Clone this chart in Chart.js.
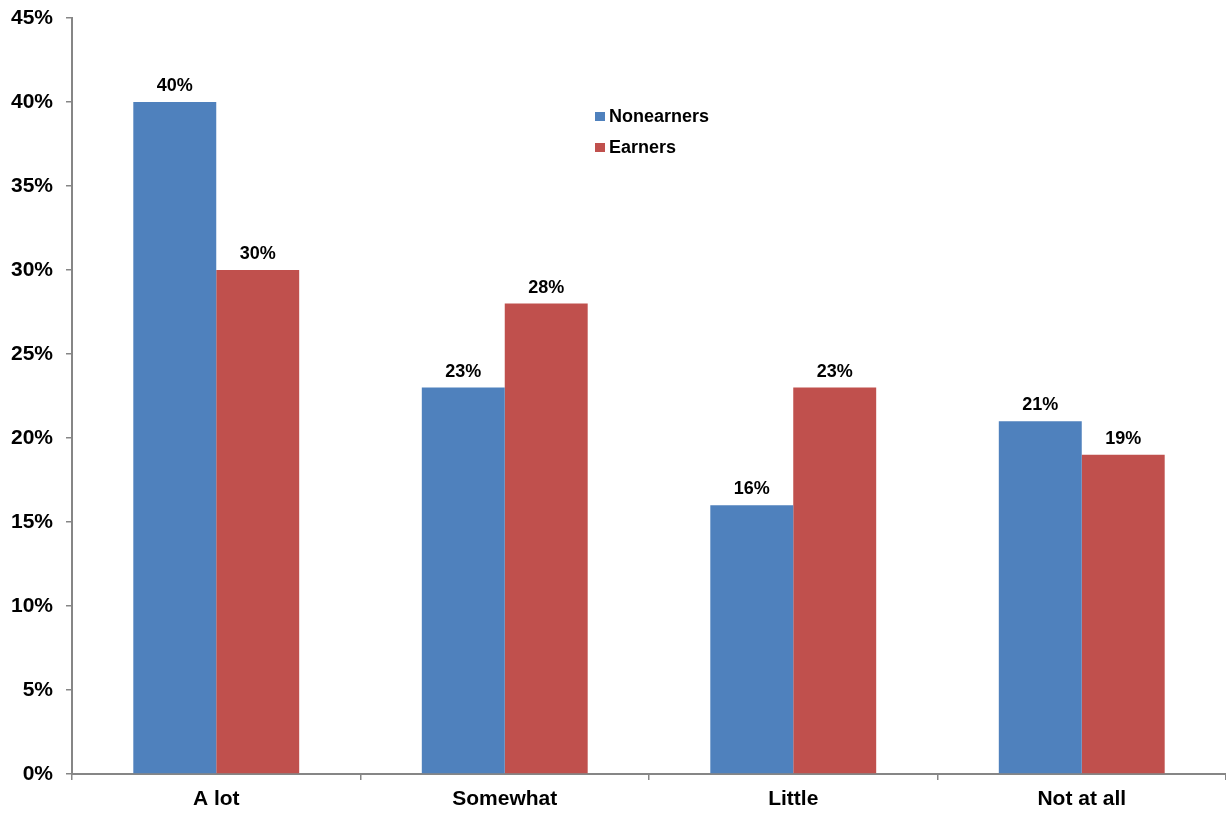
<!DOCTYPE html>
<html>
<head>
<meta charset="utf-8">
<script src="https://cdn.jsdelivr.net/npm/chart.js@4/dist/chart.umd.min.js"></script>
<style>
  html, body { margin: 0; padding: 0; background: #fff; }
  #wrap { width: 1226px; height: 817px; }
</style>
</head>
<body>
<div id="wrap"><canvas id="c" width="1226" height="817"></canvas></div>
<script>
const categories = ['A lot', 'Somewhat', 'Little', 'Not at all'];
const nonearners = [40, 23, 16, 21];
const earners = [30, 28, 23, 19];
const seriesNames = ['Nonearners', 'Earners'];
const yTicks = [0, 5, 10, 15, 20, 25, 30, 35, 40, 45];

const FONT = '"Liberation Sans", Arial, sans-serif';
const AXIS = '#868686';

// Value labels above each bar
const barLabels = {
  id: 'barLabels',
  afterDatasetsDraw(chart) {
    const ctx = chart.ctx;
    ctx.save();
    ctx.font = 'bold 18px ' + FONT;
    ctx.fillStyle = '#000';
    ctx.textAlign = 'center';
    ctx.textBaseline = 'alphabetic';
    chart.data.datasets.forEach((ds, i) => {
      chart.getDatasetMeta(i).data.forEach((bar, j) => {
        ctx.fillText(ds.data[j] + '%', bar.x, bar.y - 11);
      });
    });
    ctx.restore();
  }
};

// Legend placed inside the plot area
const innerLegend = {
  id: 'innerLegend',
  afterDraw(chart) {
    const ctx = chart.ctx;
    ctx.save();
    ctx.font = 'bold 18px ' + FONT;
    ctx.textBaseline = 'alphabetic';
    ctx.textAlign = 'left';
    chart.data.datasets.forEach((ds, i) => {
      const y = 122 + i * 31;
      ctx.fillStyle = ds.backgroundColor;
      ctx.fillRect(595, y - 10, 10, 9);
      ctx.fillStyle = '#000';
      ctx.fillText(ds.label, 609, y);
    });
    ctx.restore();
  }
};

new Chart(document.getElementById('c'), {
  type: 'bar',
  data: {
    labels: categories,
    datasets: [
      { label: seriesNames[0], data: nonearners, backgroundColor: '#4F81BD' },
      { label: seriesNames[1], data: earners, backgroundColor: '#C0504D' }
    ]
  },
  options: {
    responsive: false,
    animation: false,
    devicePixelRatio: 1,
    layout: { padding: { top: 18, right: 0, bottom: 0, left: 0 } },
    datasets: {
      bar: { categoryPercentage: 0.575, barPercentage: 1.0 }
    },
    plugins: {
      legend: { display: false },
      tooltip: { enabled: false }
    },
    scales: {
      x: {
        grid: {
          offset: true,
          drawOnChartArea: false,
          drawTicks: true,
          tickLength: 6,
          color: AXIS,
          lineWidth: 1.5
        },
        border: { color: AXIS, width: 2 },
        ticks: {
          color: '#000',
          font: { family: FONT, size: 21, weight: 'bold' },
          padding: 7,
          maxRotation: 0
        },
        afterFit(scale) {
          scale.height = 43;
          scale.paddingLeft = 0;
          scale.paddingRight = 0;
        }
      },
      y: {
        min: 0,
        max: 45,
        afterBuildTicks(scale) { scale.ticks = yTicks.map(v => ({ value: v })); },
        grid: {
          drawOnChartArea: false,
          drawTicks: true,
          tickLength: 6,
          color: AXIS,
          lineWidth: 1.5
        },
        border: { color: AXIS, width: 2 },
        ticks: {
          color: '#000',
          font: { family: FONT, size: 21, weight: 'bold' },
          padding: 13,
          callback: v => v + '%'
        },
        afterFit(scale) {
          scale.width = 72;
          scale.paddingTop = 0;
          scale.paddingBottom = 0;
        }
      }
    }
  },
  plugins: [barLabels, innerLegend]
});
</script>
</body>
</html>
